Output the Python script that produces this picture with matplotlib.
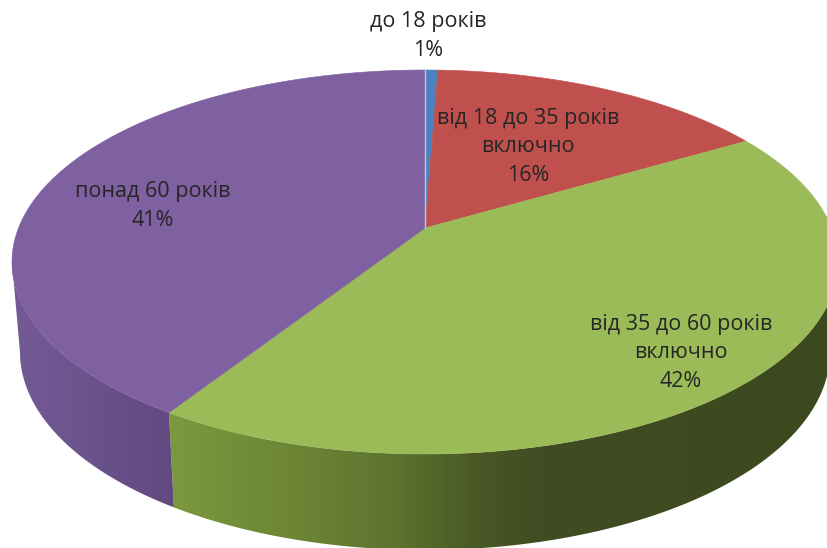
import matplotlib
matplotlib.use('Agg')
import matplotlib.pyplot as plt
from matplotlib.patches import Polygon
import numpy as np

# pie data
labels = ['до 18 років\n1%', 'від 18 до 35 років\nвключно\n16%',
          'від 35 до 60 років\nвключно\n42%', 'понад 60 років\n41%']
values = [0.6, 15.9, 42.5, 41.0]
colors = ['#4f81bd', '#c0504d', '#9bbb59', '#7f60a0']
label_x = [428, 528, 681, 153]
label_y = [36, 147, 353, 206]

# side shading, colour stops along x
green_x = [168, 300, 400, 470, 540, 830]
green_side = [(124, 153, 62), (107, 133, 53), (92, 114, 46), (74, 90, 38), (64, 76, 33), (60, 72, 30)]
purple_x = [12, 100, 168]
purple_side = [(116, 90, 150), (105, 82, 138), (96, 74, 127)]

# ellipses of the top face and of the bottom rim, in image pixels
top_cx, top_cy, top_rx, top_ry = 425, 262, 413, 192
bot_cx, bot_cy, bot_rx, bot_ry = 425, 352, 405, 198
apex_shift = 0.177  # perspective moves the centre of the pie upwards


def rim(start, end):
    t = np.radians(np.linspace(start, end, 400))
    u, v = np.sin(t), np.cos(t)
    d = 1 + apex_shift * v
    return u * np.sqrt(1 - apex_shift ** 2) / d, (v + apex_shift) / d


fig = plt.figure(figsize=(8.27, 5.48), dpi=100)
ax = fig.add_axes([0, 0, 1, 1])
ax.axis('off')

edges = np.cumsum([0] + values) / sum(values) * 360
apex = (top_cx, top_cy - apex_shift * top_ry)

# front side, green and purple are the only slices that reach it
for idx, stops_x, stops in [(2, green_x, green_side), (3, purple_x, purple_side)]:
    X, Y = rim(edges[idx], edges[idx + 1])
    keep = Y <= 0
    upper = np.column_stack([top_cx + top_rx * X[keep], top_cy - top_ry * Y[keep]])
    lower = np.column_stack([bot_cx + bot_rx * X[keep], bot_cy - bot_ry * Y[keep]])
    outline = Polygon(np.vstack([upper, lower[::-1]]), closed=True, fc='none', ec='none')
    ax.add_patch(outline)
    cols = np.arange(0, 840)
    rgb = np.stack([np.interp(cols, stops_x, [s[c] for s in stops]) for c in range(3)], axis=-1) / 255
    im = ax.imshow(rgb[np.newaxis, :, :], extent=(0, 840, 548, 0), aspect='auto', zorder=1)
    im.set_clip_path(outline)

ax.set_xlim(0, 827)
ax.set_ylim(548, 0)

# top face
for i, color in enumerate(colors):
    X, Y = rim(edges[i], edges[i + 1])
    pts = np.column_stack([top_cx + top_rx * X, top_cy - top_ry * Y])
    ax.add_patch(Polygon(np.vstack([apex, pts]), closed=True, fc=color, ec=color, lw=0.4, zorder=2))

# thin light line on the left of the blue slice
X, Y = rim(0, 0.01)
ax.plot([apex[0], top_cx + top_rx * X[0]], [apex[1], top_cy - top_ry * Y[0]],
        color='#b5cbe6', lw=1.0, zorder=3)

for text, x, y in zip(labels, label_x, label_y):
    ax.text(x, y, text, ha='center', va='center', family='Open Sans', fontsize=15.5,
            color='#262626', linespacing=1.46, zorder=4)

fig.savefig('out.png', dpi=100)
